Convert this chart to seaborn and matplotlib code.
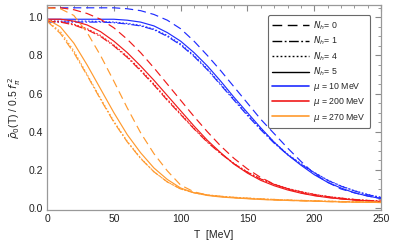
import matplotlib
matplotlib.use("Agg")
import matplotlib.pyplot as plt
from matplotlib.lines import Line2D
from matplotlib.ticker import MultipleLocator, FormatStrFormatter
import pandas as pd
import seaborn as sns

# temperature grid (MeV)
T = list(range(0, 251, 10))

# mu = 10 MeV
blue_nh0 = [1.05, 1.05, 1.05, 1.05, 1.05, 1.05, 1.045, 1.035, 1.015, 0.985, 0.94, 0.875, 0.80,
            0.72, 0.635, 0.55, 0.465, 0.39, 0.315, 0.245, 0.18, 0.135, 0.10, 0.08, 0.063, 0.05]
blue_nh1 = [0.975, 0.975, 0.975, 0.975, 0.975, 0.972, 0.965, 0.955, 0.935, 0.90, 0.855, 0.795, 0.725,
            0.645, 0.565, 0.485, 0.41, 0.34, 0.28, 0.23, 0.185, 0.145, 0.115, 0.09, 0.07, 0.055]
blue_nh4 = [0.98, 0.98, 0.98, 0.98, 0.978, 0.975, 0.968, 0.958, 0.938, 0.905, 0.86, 0.80, 0.73,
            0.65, 0.57, 0.49, 0.415, 0.345, 0.283, 0.232, 0.187, 0.147, 0.116, 0.091, 0.071, 0.056]
blue_nh5 = [0.99, 0.99, 0.99, 0.99, 0.99, 0.99, 0.985, 0.975, 0.955, 0.92, 0.875, 0.815, 0.745,
            0.665, 0.58, 0.50, 0.42, 0.345, 0.28, 0.225, 0.175, 0.135, 0.105, 0.08, 0.063, 0.05]

# mu = 200 MeV
red_nh0 = [1.05, 1.05, 1.04, 1.02, 0.99, 0.945, 0.885, 0.815, 0.735, 0.65, 0.565, 0.48, 0.40,
           0.325, 0.26, 0.205, 0.16, 0.125, 0.10, 0.08, 0.066, 0.056, 0.048, 0.042, 0.038, 0.034]
red_nh1 = [0.98, 0.975, 0.96, 0.935, 0.90, 0.85, 0.79, 0.72, 0.645, 0.565, 0.49, 0.415, 0.345,
           0.285, 0.232, 0.188, 0.152, 0.124, 0.102, 0.085, 0.071, 0.06, 0.052, 0.045, 0.04, 0.036]
red_nh4 = [0.982, 0.978, 0.964, 0.94, 0.905, 0.855, 0.795, 0.725, 0.65, 0.57, 0.494, 0.418, 0.348,
           0.287, 0.233, 0.189, 0.153, 0.125, 0.103, 0.086, 0.072, 0.061, 0.052, 0.045, 0.04, 0.036]
red_nh5 = [0.99, 0.99, 0.98, 0.96, 0.925, 0.875, 0.815, 0.745, 0.67, 0.59, 0.51, 0.43, 0.355,
           0.29, 0.23, 0.183, 0.145, 0.117, 0.095, 0.078, 0.065, 0.055, 0.048, 0.042, 0.038, 0.034]

# mu = 270 MeV
orange_nh0 = [1.05, 1.045, 1.01, 0.92, 0.80, 0.665, 0.525, 0.395, 0.285, 0.195, 0.12, 0.085, 0.068,
              0.06, 0.054, 0.05, 0.046, 0.043, 0.04, 0.038, 0.036, 0.034, 0.032, 0.031, 0.03, 0.029]
orange_nh1 = [0.98, 0.915, 0.815, 0.695, 0.57, 0.45, 0.347, 0.26, 0.19, 0.137, 0.10, 0.08, 0.069,
              0.062, 0.056, 0.052, 0.048, 0.045, 0.042, 0.04, 0.038, 0.036, 0.034, 0.033, 0.032, 0.031]
orange_nh4 = [0.98, 0.925, 0.825, 0.70, 0.575, 0.455, 0.35, 0.262, 0.19, 0.137, 0.10, 0.08, 0.068,
              0.061, 0.056, 0.052, 0.048, 0.045, 0.042, 0.04, 0.038, 0.036, 0.034, 0.033, 0.032, 0.031]
orange_nh5 = [0.99, 0.95, 0.865, 0.75, 0.625, 0.50, 0.385, 0.29, 0.21, 0.15, 0.105, 0.08, 0.066,
              0.058, 0.053, 0.049, 0.045, 0.042, 0.04, 0.038, 0.036, 0.034, 0.032, 0.031, 0.03, 0.029]

mu_labels = ['10', '200', '270']
nh_labels = ['0', '1', '4', '5']
curves = {
    ('10', '0'): blue_nh0, ('10', '1'): blue_nh1, ('10', '4'): blue_nh4, ('10', '5'): blue_nh5,
    ('200', '0'): red_nh0, ('200', '1'): red_nh1, ('200', '4'): red_nh4, ('200', '5'): red_nh5,
    ('270', '0'): orange_nh0, ('270', '1'): orange_nh1, ('270', '4'): orange_nh4, ('270', '5'): orange_nh5,
}

rows = []
for (mu, nh), vals in curves.items():
    for t, v in zip(T, vals):
        rows.append({'T': t, 'rho': v, 'mu': mu, 'Nh': nh})
df = pd.DataFrame(rows)

colors = {'10': '#1f2cff', '200': '#f01a1a', '270': '#ff9a2e'}
dashes = {'0': (7, 4), '1': (7, 1.8, 1.3, 1.8), '4': (1.3, 1.6), '5': ''}

sns.set_style('white')
plt.rcParams['font.family'] = ['Liberation Sans', 'DejaVu Sans']
plt.rcParams['mathtext.fontset'] = 'dejavusans'

fig = plt.figure(figsize=(3.99, 2.47), dpi=100)
ax = fig.add_axes([0.118, 0.15, 0.837, 0.83])

sns.lineplot(data=df, x='T', y='rho', hue='mu', style='Nh', palette=colors,
             dashes=dashes, hue_order=mu_labels, style_order=nh_labels,
             linewidth=0.85, legend=False, ax=ax, estimator=None)

ax.set_xlim(0, 250)
ax.set_ylim(-0.01, 1.065)
ax.xaxis.set_major_locator(MultipleLocator(50))
ax.xaxis.set_minor_locator(MultipleLocator(10))
ax.yaxis.set_major_locator(MultipleLocator(0.2))
ax.yaxis.set_minor_locator(MultipleLocator(0.05))
ax.yaxis.set_major_formatter(FormatStrFormatter('%.1f'))
ax.tick_params(which='both', direction='in', top=True, right=True, color='#888888',
               labelsize=7.5, labelcolor='#222222', pad=3)
ax.tick_params(which='major', length=4, width=0.8)
ax.tick_params(which='minor', length=2, width=0.6)
for s in ax.spines.values():
    s.set_color('#999999')
    s.set_linewidth(0.9)

ax.set_xlabel('T  [MeV]', fontsize=7.5, color='#222222', labelpad=4)
ax.set_ylabel(r'$\bar{\rho}_0$(T) / 0.5 $f_\pi^{\,2}$', fontsize=7.5, color='#222222', labelpad=4)

handles = [
    Line2D([], [], color='black', lw=1.0, dashes=dashes['0'], label=r'$N_h$= 0'),
    Line2D([], [], color='black', lw=1.0, dashes=dashes['1'], label=r'$N_h$= 1'),
    Line2D([], [], color='black', lw=1.0, dashes=dashes['4'], label=r'$N_h$= 4'),
    Line2D([], [], color='black', lw=1.0, label=r'$N_h$= 5'),
    Line2D([], [], color=colors['10'], lw=1.2, label=r'$\mu$ = 10 MeV'),
    Line2D([], [], color=colors['200'], lw=1.2, label=r'$\mu$ = 200 MeV'),
    Line2D([], [], color=colors['270'], lw=1.2, label=r'$\mu$ = 270 MeV'),
]
leg = ax.legend(handles=handles, loc='upper right', bbox_to_anchor=(0.968, 0.952),
                fontsize=6.3, handlelength=4.2, handletextpad=0.5, labelspacing=0.35,
                borderpad=0.5, frameon=True, fancybox=True, borderaxespad=0)
leg.get_frame().set_edgecolor('#444444')
leg.get_frame().set_linewidth(0.8)

fig.savefig('out.png', dpi=100)
